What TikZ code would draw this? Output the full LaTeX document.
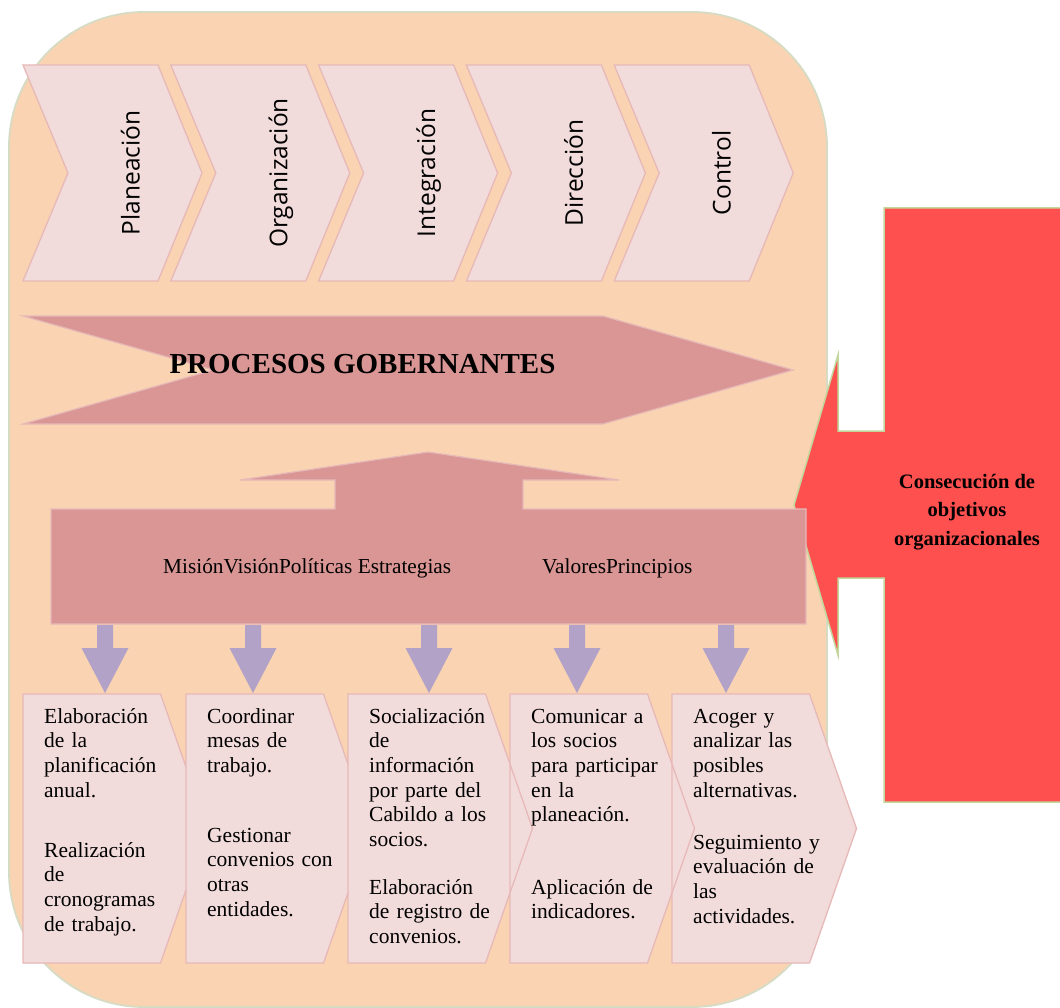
\documentclass[tikz,border=0pt]{standalone}
\usepackage{fontspec}
\setmainfont{Liberation Serif}
\newfontfamily\stagefont{Open Sans}

\definecolor{panelfill}{HTML}{FAD3B2}
\definecolor{panelline}{HTML}{D6DCC4}
\definecolor{paleblock}{HTML}{F2DCDB}
\definecolor{paleline}{HTML}{E6B9B8}
\definecolor{rose}{HTML}{D99694}
\definecolor{lilac}{HTML}{B2A2C7}
\definecolor{goalred}{HTML}{FF5050}
\definecolor{goalline}{HTML}{C3D69B}

\begin{document}
\begin{tikzpicture}[x=1pt,y=-1pt,
  panel/.style={fill=panelfill,draw=panelline,line width=1.8pt,rounded corners=135pt},
  stagebox/.style={fill=paleblock,draw=paleline,line width=1.3pt,line join=miter},
  stagelabel/.style={font=\stagefont\fontsize{24.5}{28}\selectfont,rotate=90,anchor=base,inner sep=0pt},
  roseblock/.style={fill=rose,draw=paleline,line width=1.2pt},
  downarrow/.style={fill=lilac,draw=none},
  taskbox/.style={fill=paleblock,line join=miter},
  taskline/.style={draw=paleline,line width=1.3pt,line join=miter},
  tasktext/.style={font=\fontsize{21.5}{24.7}\selectfont,anchor=base west,align=left,text width=160pt,inner sep=0pt},
  goalarrow/.style={fill=goalred,draw=goalline,line width=1.5pt},
  goaltext/.style={font=\bfseries\fontsize{20.5}{28.5}\selectfont,align=center,inner sep=0pt}
]
\useasboundingbox (0,0) rectangle (1060,1008);
\fill[white] (0,0) rectangle (1060,1008);

% background panel
\draw[panel] (9,12) rectangle (827,1007);

% goal arrow pointing left
\draw[goalarrow] (1075,208) -- (884,208) -- (884,431) -- (838,431) -- (838,355)
  -- (794,505) -- (838,655) -- (838,578) -- (884,578) -- (884,802) -- (1075,802) -- cycle;
\node[goaltext] (goal) at (967,512) {Consecución de\\objetivos\\organizacionales};

% management stages (chevrons)
\foreach \lbl [count=\i from 0] in {Planeación,Organización,Integración,Dirección,Control}{
  \pgfmathsetmacro{\L}{23+147.8*\i}
  \draw[stagebox] (\L,65) -- ++(135,0) -- ++(44,108) -- ++(-44,108) -- ++(-135,0) -- ++(45,-108) -- cycle;
  \node[stagelabel] (stage\i) at ({\L+116.5},173) {\lbl};
}

% governing processes arrow
\draw[roseblock] (23,316) -- (603,316) -- (793,370) -- (603,424) -- (23,424) -- (213,370) -- cycle;
\node[font=\bfseries\fontsize{29}{34}\selectfont,anchor=base,inner sep=0pt] (gov) at (362.5,373) {PROCESOS GOBERNANTES};

% foundations block with upward arrow
\draw[roseblock] (51,509) -- (335,509) -- (335,480) -- (240,480) -- (428,452) -- (619,480)
  -- (523,480) -- (523,509) -- (806,509) -- (806,624) -- (51,624) -- cycle;
\node[font=\fontsize{21.3}{25}\selectfont,anchor=base west,inner sep=0pt] (base1) at (163,573) {MisiónVisiónPolíticas Estrategias};
\node[font=\fontsize{21.3}{25}\selectfont,anchor=base west,inner sep=0pt] (base2) at (542,573) {ValoresPrincipios};

% downward arrows
\foreach \t in {105,253,429,577,726}{
  \fill[downarrow] (\t-8,625) -- (\t+8,625) -- (\t+8,648) -- (\t+23.5,648) -- (\t,693)
    -- (\t-23.5,648) -- (\t-8,648) -- cycle;
}

% activity boxes
\def\taskshape#1{(#1,694) -- ++(137.5,0) -- ++(47,134.5) -- ++(-47,134.5) -- ++(-137.5,0) -- cycle}
\draw[taskbox,taskline] \taskshape{23};
\draw[taskbox,taskline] \taskshape{186};
\fill[taskbox] \taskshape{348};
\fill[taskbox] \taskshape{510};
\fill[taskbox] \taskshape{672};
\draw[taskline] \taskshape{672};
\draw[taskline] \taskshape{510};
\draw[taskline] \taskshape{348};

\node[tasktext] (a1) at (44,723) {Elaboración\\de la\\planificación\\anual.};
\node[tasktext] (a2) at (44,857) {Realización\\de\\cronogramas\\de trabajo.};
\node[tasktext] (b1) at (207,723) {Coordinar\\mesas de\\trabajo.};
\node[tasktext] (b2) at (207,842) {Gestionar\\convenios con\\otras\\entidades.};
\node[tasktext] (c1) at (369,723) {Socialización\\de\\información\\por parte del\\Cabildo a los\\socios.};
\node[tasktext] (c2) at (369,894) {Elaboración\\de registro de\\convenios.};
\node[tasktext] (d1) at (531,723) {Comunicar a\\los socios\\para participar\\en la\\planeación.};
\node[tasktext] (d2) at (531,894) {Aplicación de\\indicadores.};
\node[tasktext] (e1) at (693,723) {Acoger y\\analizar las\\posibles\\alternativas.};
\node[tasktext] (e2) at (693,849) {Seguimiento y\\evaluación de\\las\\actividades.};
\end{tikzpicture}
\end{document}
